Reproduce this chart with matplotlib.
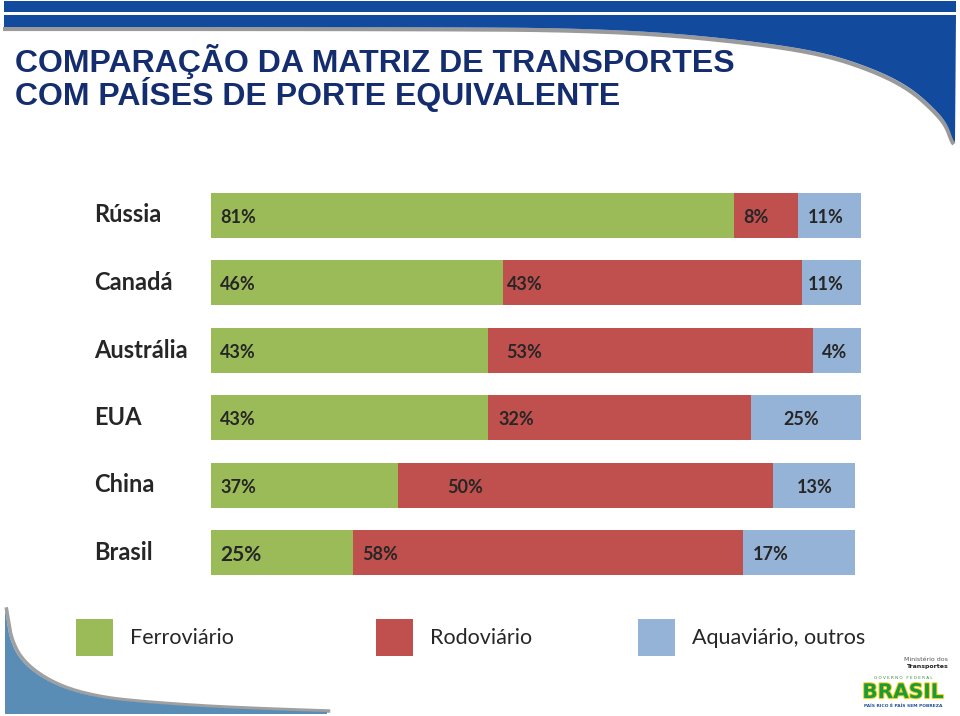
import matplotlib
matplotlib.use('Agg')
import matplotlib.pyplot as plt
import matplotlib.patheffects as pe
from matplotlib.patches import Rectangle, Polygon
import numpy as np

# Data
countries = ['Rússia', 'Canadá', 'Austrália', 'EUA', 'China', 'Brasil']
modes = ['Ferroviário', 'Rodoviário', 'Aquaviário, outros']

# percentages printed on the bars
rail_pct = [81, 46, 43, 43, 37, 25]
road_pct = [8, 43, 53, 32, 50, 58]
water_pct = [11, 11, 4, 25, 13, 17]

# segment lengths as drawn on the slide (the original is not to scale)
rail_len = [80.5, 44.9, 42.6, 42.6, 28.8, 21.8]
road_len = [9.8, 46.0, 50.0, 40.5, 57.7, 60.0]
water_len = [9.7, 9.5, 7.7, 17.2, 12.6, 17.2]

colors = ['#9BBB59', '#C0504D', '#95B3D7']
title_color = '#142D6E'
text_color = '#262626'

# label padding from segment start (data units)
road_pad = [1.4, 0.6, 2.8, 1.7, 7.5, 1.5]
water_pad = [1.5, 0.9, 1.4, 4.9, 3.7, 1.5]

W, H = 960, 716
fig = plt.figure(figsize=(W / 100, H / 100), dpi=100)


def chaikin(pts, n_iter=4):
    # corner cutting to smooth the decoration outlines
    pts = np.asarray(pts, dtype=float)
    for _ in range(n_iter):
        q = 0.75 * pts[:-1] + 0.25 * pts[1:]
        r = 0.25 * pts[:-1] + 0.75 * pts[1:]
        new = np.empty((2 * len(q), 2))
        new[0::2] = q
        new[1::2] = r
        pts = np.vstack([pts[:1], new, pts[-1:]])
    return pts


# background decoration (pixel coordinates)
bg = fig.add_axes([0, 0, 1, 1], zorder=-1)
bg.set_xlim(0, W)
bg.set_ylim(H, 0)
bg.axis('off')

band_blue = '#124A9E'
bg.add_patch(Rectangle((4, 1), 952, 11, color=band_blue, lw=0))
curve = chaikin([(955, 142), (953, 140), (947, 123), (933, 107), (910, 87), (877, 70),
                 (827, 53), (760, 42), (660, 32), (560, 28), (450, 27.3), (300, 27), (4, 27)])
bg.plot(curve[:, 0] - 1, curve[:, 1] + 2, color='#9A9A9A', lw=3, zorder=1, solid_capstyle='butt')
top_poly = np.vstack([[(4, 15), (956, 15)], curve])
bg.add_patch(Polygon(top_poly, closed=True, color=band_blue, lw=0, zorder=2))

wedge = chaikin([(5, 610), (7, 622), (10, 640), (20, 660), (40, 677), (67, 690), (100, 698),
                 (133, 702), (200, 707), (267, 710), (327, 712)])
bg.plot(wedge[:, 0] + 1.5, wedge[:, 1] - 1, color='#A0A0A0', lw=2.5, zorder=1)
bg.add_patch(Polygon(np.vstack([wedge, [(327, 714), (5, 714)]]), closed=True,
                     color='#5A8DB5', lw=0, zorder=2))

# logo
bg.text(948, 661, 'Ministério dos', ha='right', va='baseline', fontsize=4.5, color='#555555',
        family='DejaVu Sans')
bg.text(948, 668, 'Transportes', ha='right', va='baseline', fontsize=4.5, color='#222222',
        weight='bold', family='DejaVu Sans')
bg.text(903, 679, 'G O V E R N O   F E D E R A L', ha='center', va='baseline', fontsize=3,
        color='#2E8B3A', family='DejaVu Sans')
bg.text(903, 698, 'BRASIL', ha='center', va='baseline', fontsize=14.5, color='#1E9A3A',
        weight='heavy', family='DejaVu Sans',
        path_effects=[pe.withStroke(linewidth=1.5, foreground='#F2D21B')])
bg.text(903, 707, 'PAÍS RICO É PAÍS SEM POBREZA', ha='center', va='baseline', fontsize=3.2,
        color='#1E4E9A', weight='bold', family='DejaVu Sans')

# title
fig.text(15 / W, 1 - 72 / H, 'COMPARAÇÃO DA MATRIZ DE TRANSPORTES', fontsize=23,
         weight='bold', color=title_color, family='Liberation Sans', va='baseline')
fig.text(15 / W, 1 - 105 / H, 'COM PAÍSES DE PORTE EQUIVALENTE', fontsize=23,
         weight='bold', color=title_color, family='Liberation Sans', va='baseline')

# bars
x0, x1 = 211, 861
top, bottom = 192.5, 575
ax = fig.add_axes([x0 / W, 1 - bottom / H, (x1 - x0) / W, (bottom - top) / H])
ax.set_xlim(0, 100)
n = len(countries)
half = 22.5 / 67.5
ax.set_ylim(n - 1 + half, -half)
ax.axis('off')

y = np.arange(n)
rail = np.array(rail_len)
road = np.array(road_len)
water = np.array(water_len)
h = 2 * half
ax.barh(y, rail, height=h, color=colors[0], lw=0)
ax.barh(y, road, left=rail, height=h, color=colors[1], lw=0)
ax.barh(y, water, left=rail + road, height=h, color=colors[2], lw=0)

lab_font = dict(family=['Lato', 'DejaVu Sans'], weight='bold', color=text_color,
                va='center', ha='left')
for i in range(n):
    yy = i + 0.03
    ax.text(1.4, yy, f'{rail_pct[i]}%', fontsize=15 if countries[i] == 'Brasil' else 13,
            **lab_font)
    ax.text(rail[i] + road_pad[i], yy, f'{road_pct[i]}%', fontsize=13, **lab_font)
    ax.text(rail[i] + road[i] + water_pad[i], yy, f'{water_pct[i]}%', fontsize=13, **lab_font)
    ax.text((94 - x0) / 6.5, i, countries[i], fontsize=17, family=['Lato', 'DejaVu Sans'],
            weight='bold', color=text_color, va='center', ha='left', clip_on=False)

# legend
leg_x = [76, 376, 638]
for k in range(3):
    bg.add_patch(Rectangle((leg_x[k], 619), 37, 37, color=colors[k], lw=0))
    bg.text(leg_x[k] + 54, 638, modes[k], fontsize=15.5, family=['Lato', 'DejaVu Sans'],
            color=text_color, va='center', ha='left')

fig.savefig('out.png', dpi=100)
plt.close('all')
